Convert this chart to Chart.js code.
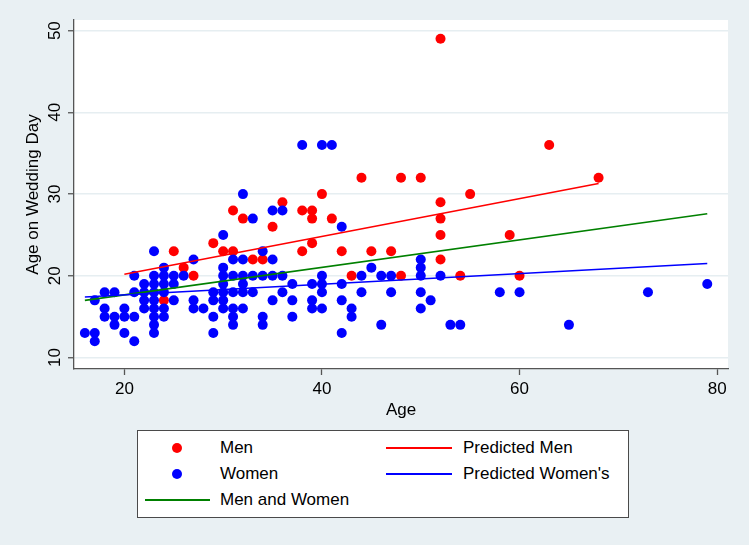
<!DOCTYPE html>
<html>
<head>
<meta charset="utf-8">
<script src="https://cdn.jsdelivr.net/npm/chart.js@4/dist/chart.umd.min.js"></script>
<style>
  html, body { margin:0; padding:0; background:#e9f0f3; }
  #wrap { position:relative; width:749px; height:545px; overflow:hidden; }
  #c { position:absolute; left:0; top:0; }
  #legend { position:absolute; left:137px; top:430px; width:490px; height:86px;
            background:#fff; border:1px solid #4a4a4a; font-family:"Liberation Sans", Arial, sans-serif;
            font-size:17px; color:#000; }
  .li { position:absolute; white-space:nowrap; line-height:20px; }
  .sym { position:absolute; }
</style>
</head>
<body>
<div id="wrap">
  <canvas id="c" width="749" height="545"></canvas>
  <div id="legend"></div>
</div>
<script>
// ---- data ----
const menAge = [24,25,26,27,29,30,31,31,32,33,34,35,36,38,39,39,38,39,40,41,42,43,44,45,47,48,48,50,52,52,52,52,52,54,55,59,60,63,68];
const menWed = [17,23,21,20,24,23,23,28,27,22,22,26,29,28,28,27,23,24,30,27,23,20,32,23,23,32,20,32,49,29,27,25,22,20,30,25,20,36,32];

const womenAge = [16,17,17,17,18,18,18,19,19,19,20,20,20,21,21,21,21,22,22,22,22,
  23,23,23,23,23,23,23,23,23,24,24,24,24,24,24,25,25,25,26,27,27,27,28,29,29,29,29,
  30,30,30,30,30,30,30,31,31,31,31,31,31,32,32,32,32,32,32,33,33,33,34,34,34,34,
  35,35,35,35,36,36,36,37,37,37,38,39,39,39,40,40,40,40,40,41,42,42,42,42,43,43,
  44,44,45,46,46,47,47,50,50,50,50,50,51,52,53,54,58,60,65,73,79];
const womenWed = [13,13,12,17,18,16,15,18,15,14,16,15,13,20,18,15,12,19,18,17,16,
  23,20,19,18,17,16,15,14,13,21,20,19,18,16,15,20,19,17,20,22,17,16,16,18,17,15,13,
  25,21,20,19,18,17,16,22,20,18,16,15,14,30,22,20,19,18,16,27,20,18,23,20,15,14,
  28,22,20,17,28,20,18,19,17,15,36,19,17,16,36,20,19,18,16,36,26,19,17,13,16,15,
  20,18,21,20,14,20,18,22,21,20,18,16,17,20,14,14,18,18,14,18,19];

const predMenX = [20, 68],   predMenY = [20.2, 31.3];
const predWomenX = [16, 79], predWomenY = [17.4, 21.5];
const bothX = [16, 79],      bothY = [17.0, 27.6];

const xTicks = [20, 40, 60, 80];
const yTicks = [10, 20, 30, 40, 50];

const labels = {
  men: 'Men', women: 'Women', predMen: 'Predicted Men',
  predWomen: "Predicted Women's", both: 'Men and Women',
  xTitle: 'Age', yTitle: 'Age on Wedding Day'
};

const RED = '#ff0000', BLUE = '#0000ff', GREEN = '#008000';
const FONT = '"Liberation Sans", Arial, sans-serif';
const toPts = (xs, ys) => xs.map((x, i) => ({x, y: ys[i]}));

const plotBg = {
  id: 'plotBg',
  beforeDraw(chart) {
    const {ctx, chartArea: a} = chart;
    ctx.save();
    ctx.fillStyle = '#ffffff';
    ctx.fillRect(a.left, a.top, a.right - a.left, a.bottom - a.top);
    ctx.restore();
  }
};

const chart = new Chart(document.getElementById('c'), {
  type: 'scatter',
  data: {
    datasets: [
      { label: labels.men, data: toPts(menAge, menWed), backgroundColor: RED,
        pointRadius: 5, pointBorderWidth: 0, borderWidth: 0, order: 5 },
      { label: labels.women, data: toPts(womenAge, womenWed), backgroundColor: BLUE,
        pointRadius: 5, pointBorderWidth: 0, borderWidth: 0, order: 4 },
      { type: 'line', label: labels.predMen, data: toPts(predMenX, predMenY), borderColor: RED,
        borderWidth: 1.6, pointRadius: 0, fill: false, order: 3 },
      { type: 'line', label: labels.both, data: toPts(bothX, bothY), borderColor: GREEN,
        borderWidth: 1.6, pointRadius: 0, fill: false, order: 2 },
      { type: 'line', label: labels.predWomen, data: toPts(predWomenX, predWomenY), borderColor: BLUE,
        borderWidth: 1.6, pointRadius: 0, fill: false, order: 1 }
    ]
  },
  options: {
    responsive: false,
    animation: false,
    events: [],
    layout: { padding: { left: 0, top: 20, right: 21, bottom: 116 } },
    plugins: { legend: { display: false }, tooltip: { enabled: false } },
    scales: {
      x: {
        type: 'linear', min: 14.9, max: 81.1,
        afterBuildTicks: s => { s.ticks = xTicks.map(v => ({value: v})); },
        afterFit: s => { s.height = 60; },
        grid: { drawOnChartArea: false, drawTicks: true, tickLength: 6, tickColor: '#555', tickWidth: 1.3 },
        border: { display: true, color: '#555', width: 1.3 },
        ticks: { color: '#000', font: { family: FONT, size: 17 }, padding: 4, maxRotation: 0 },
        title: { display: true, text: labels.xTitle, color: '#000', font: { family: FONT, size: 17 },
                 padding: { top: 0, bottom: 8 } }
      },
      y: {
        type: 'linear', min: 8.6, max: 51.3,
        afterBuildTicks: s => { s.ticks = yTicks.map(v => ({value: v})); },
        afterFit: s => { s.width = 74; },
        grid: { drawOnChartArea: true, color: '#e6eef1', lineWidth: 1.5, drawTicks: true,
                tickLength: 6, tickColor: '#555', tickWidth: 1.3 },
        border: { display: true, color: '#555', width: 1.3 },
        ticks: { color: '#000', font: { family: FONT, size: 17 }, padding: 3,
                 minRotation: 90, maxRotation: 90, crossAlign: 'center' },
        title: { display: true, text: labels.yTitle, color: '#000', font: { family: FONT, size: 17 },
                 padding: { top: 23, bottom: 0 } }
      }
    }
  },
  plugins: [plotBg]
});

// ---- HTML legend (two columns, Stata-like) ----
const legend = document.getElementById('legend');
const items = [
  { kind: 'dot', color: RED, text: labels.men, sx: 176.7, y: 448 },
  { kind: 'dot', color: BLUE, text: labels.women, sx: 176.7, y: 474 },
  { kind: 'line', color: GREEN, text: labels.both, sx: 145, ex: 210, y: 500, tx: 220 },
  { kind: 'line', color: RED, text: labels.predMen, sx: 386, ex: 452, y: 448, tx: 463 },
  { kind: 'line', color: BLUE, text: labels.predWomen, sx: 386, ex: 452, y: 474, tx: 463 }
];
const ox = 138, oy = 431; // inner origin of the legend box
items.forEach(it => {
  const s = document.createElement('div');
  s.className = 'sym';
  if (it.kind === 'dot') {
    s.style.cssText = `left:${it.sx - 5 - ox}px;top:${it.y - 5 - oy}px;width:10px;height:10px;border-radius:50%;background:${it.color};`;
  } else {
    s.style.cssText = `left:${it.sx - ox}px;top:${it.y - 1 - oy}px;width:${it.ex - it.sx}px;height:2px;background:${it.color};`;
  }
  legend.appendChild(s);
  const t = document.createElement('div');
  t.className = 'li';
  t.textContent = it.text;
  t.style.left = ((it.tx || 220) - ox) + 'px';
  t.style.top = (it.y - 10 - oy) + 'px';
  legend.appendChild(t);
});
</script>
</body>
</html>
